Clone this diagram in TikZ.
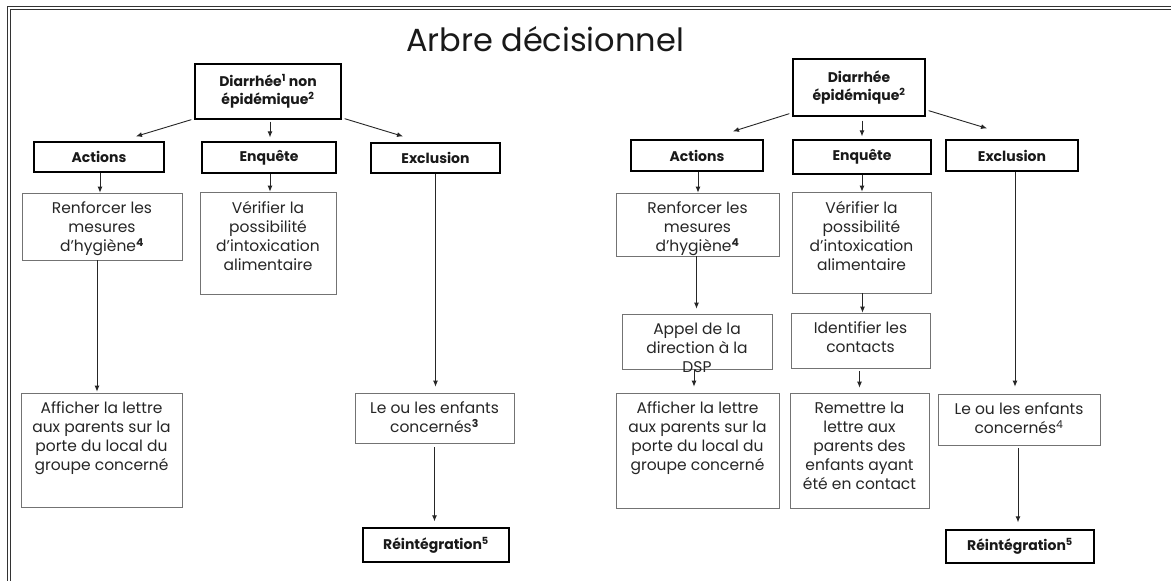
\documentclass[tikz,border=0pt]{standalone}
\usepackage{fontspec}
\setmainfont{Poppins}
\usetikzlibrary{arrows.meta,calc}
\newcommand\tb[3]{\parbox[c][#2pt][t]{#1pt}{\centering\fontsize{15.5}{19}\selectfont\vspace*{9pt}#3}}
\tikzset{
 hbox/.style={draw=black, line width=1.3pt, fill=white, inner sep=0pt, align=center, text=black!90, font=\bfseries\fontsize{14}{18}\selectfont},
 tbox/.style={draw=black!55, line width=0.7pt, fill=white, inner sep=0pt, text=black!85},
 arr/.style={-{Latex[length=6pt,width=5pt]}, line width=0.9pt, draw=black!85},
 frame/.style={draw=black!80}
}
\begin{document}
\begin{tikzpicture}[x=1pt,y=-1pt]
\useasboundingbox (0,0) rectangle (1171,581);
\fill[white] (0,0) rectangle (1171,581);
% frame
\draw[frame, line width=1pt] (7,581) -- (7,6) -- (1171,6);
\draw[frame, line width=0.8pt] (10.5,581) -- (10.5,9.5) -- (1171,9.5);
% title
\node[text=black!90] (title) at (545,39) {\fontsize{32}{35}\selectfont Arbre décisionnel};

% ---------- left tree ----------
\node[hbox, minimum width=146pt, minimum height=55pt] (dL) at (268,91.5) {Diarrhée\textsuperscript{1} non\\épidémique\textsuperscript{2}};
\node[hbox, minimum width=130pt, minimum height=30pt] (aL) at (99,157) {Actions};
\node[hbox, minimum width=134pt, minimum height=31pt] (eL) at (269,157.5) {Enquête};
\node[hbox, minimum width=129pt, minimum height=30pt] (xL) at (435.5,158) {Exclusion};
\node[tbox] (rL) at (102,226.5) {\tb{160}{67}{Renforcer les\\mesures\\d’hygiène\textsuperscript{\bfseries 4}}};
\node[tbox] (vL) at (268,243) {\tb{136}{102}{Vérifier la\\possibilité\\d’intoxication\\alimentaire}};
\node[tbox] (afL) at (101.5,450) {\tb{161}{114}{Afficher la lettre\\aux parents sur la\\porte du local du\\groupe concerné}};
\node[tbox] (leL) at (434.5,418) {\tb{159}{50}{Le ou les enfants\\concernés\textsuperscript{\bfseries 3}}};
\node[hbox, minimum width=146pt, minimum height=34pt] (riL) at (436,545) {Réintégration\textsuperscript{5}};

\draw[arr] ($(dL.south west)+(-3,0)$) -- ($(aL.north)+(37,-5)$);
\draw[arr, shorten <=2pt, shorten >=4pt] ([xshift=2pt]dL.south) -- ([xshift=2pt]dL.south |- eL.north);
\draw[arr] ($(dL.south east)+(3,-1)$) -- ($(xL.north)+(-32.5,-6)$);
\draw[arr] ([xshift=1pt]aL.south) -- ([xshift=1pt]aL.south |- rL.north);
\draw[arr] ([xshift=1pt]eL.south) -- ([xshift=1pt]eL.south |- vL.north);
\draw[arr, shorten >=6pt] (xL.south) -- (xL.south |- leL.north);
\draw[arr, shorten >=1pt] ([xshift=-5pt]rL.south) -- ([xshift=-5pt]rL.south |- afL.north);
\draw[arr, shorten <=4pt, shorten >=6pt] (leL.south) -- (leL.south |- riL.north);

% ---------- right tree ----------
\node[hbox, minimum width=132pt, minimum height=57pt] (dR) at (859,87.5) {Diarrhée\\épidémique\textsuperscript{2}};
\node[hbox, minimum width=132pt, minimum height=31pt] (aR) at (697,155.5) {Actions};
\node[hbox, minimum width=138pt, minimum height=34pt] (eR) at (862,157) {Enquête};
\node[hbox, minimum width=132pt, minimum height=31pt] (xR) at (1012,155.5) {Exclusion};
\node[tbox] (rR) at (697.5,224.5) {\tb{163}{63}{Renforcer les\\mesures\\d’hygiène\textsuperscript{\bfseries 4}}};
\node[tbox] (vR) at (861.5,242.5) {\tb{139}{101}{Vérifier la\\possibilité\\d’intoxication\\alimentaire}};
\node[tbox] (apR) at (697,341.5) {\tb{150}{55}{Appel de la\\direction à la\\DSP}};
\node[tbox] (idR) at (860.5,340.5) {\tb{139}{55}{Identifier les\\contacts}};
\node[tbox] (afR) at (697.5,450.5) {\tb{163}{115}{Afficher la lettre\\aux parents sur la\\porte du local du\\groupe concerné}};
\node[tbox] (reR) at (859.5,450.5) {\tb{139}{115}{Remettre la\\lettre aux\\parents des\\enfants ayant\\été en contact}};
\node[tbox] (leR) at (1019,419.5) {\tb{162}{51}{Le ou les enfants\\concernés\textsuperscript{4}}};
\node[hbox, minimum width=148pt, minimum height=33pt] (riR) at (1020,546.5) {Réintégration\textsuperscript{5}};

\draw[arr] ($(dR.south west)+(-3,-3)$) -- ($(aR.north)+(36,-8)$);
\draw[arr, shorten <=4pt, shorten >=3pt] (eR.north |- dR.south) -- (eR.north);
\draw[arr] ($(dR.south east)+(3,-6)$) -- ($(xR.north)+(-25,-11)$);
\draw[arr] ([xshift=1pt]aR.south) -- ([xshift=1pt]aR.south |- rR.north);
\draw[arr] (eR.south) -- (eR.south |- vR.north);
\draw[arr, shorten >=7pt] ([xshift=3pt]xR.south) -- ([xshift=3pt]xR.south |- leR.north);
\draw[arr, shorten >=5pt] ([xshift=-1pt]rR.south) -- ([xshift=-1pt]rR.south |- apR.north);
\draw[arr] ([xshift=1pt]vR.south) -- ([xshift=1pt]vR.south |- idR.north);
\draw[arr, shorten <=1pt, shorten >=6pt] ([xshift=-3pt]apR.south) -- ([xshift=-3pt]apR.south |- afR.north);
\draw[arr, shorten <=3pt, shorten >=5pt] ([xshift=-1pt]idR.south) -- ([xshift=-1pt]idR.south |- reR.north);
\draw[arr, shorten <=3pt, shorten >=7pt] ([xshift=-1pt]leR.south) -- ([xshift=-1pt]leR.south |- riR.north);
\end{tikzpicture}
\end{document}
